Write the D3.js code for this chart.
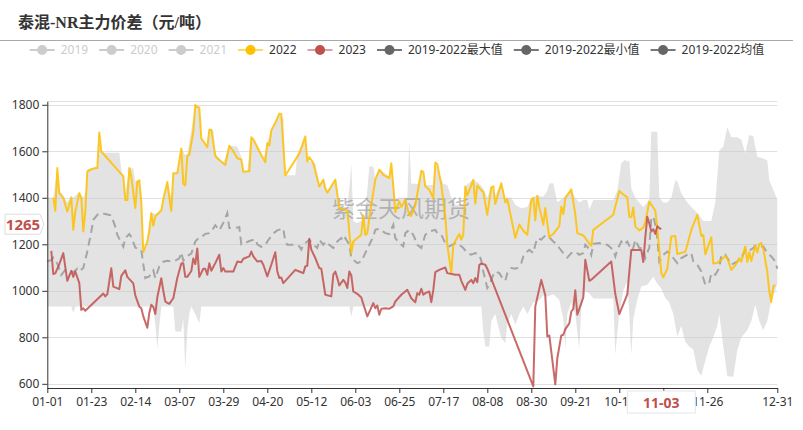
<!DOCTYPE html>
<html><head><meta charset="utf-8">
<script src="https://cdn.jsdelivr.net/npm/d3@7"></script>
<style>body{margin:0;background:#fff}svg{display:block}</style>
</head><body>
<svg id="c" width="803" height="430"></svg>
<script>
// ---------- data ----------
const chartTitle = "泰混-NR主力价差（元/吨）";
const watermark = "紫金天风期货";
const legendNames = ["2019","2020","2021","2022","2023","2019-2022最大值","2019-2022最小值","2019-2022均值"];
const legendOn = [false,false,false,true,true,true,true,true];
const yTicks = [600,800,1000,1200,1400,1600,1800];
const xTickLabels = ["01-01","01-23","02-14","03-07","03-29","04-20","05-12","06-03","06-25","07-17","08-08","08-30","09-21","10-13","11-04","11-26","12-31"];
const pointerDate = "11-03";
const pointerValue = 1265;
// categories: every calendar day (MM-DD, incl. 02-29)
const categories = d3.utcDays(new Date(Date.UTC(2020,0,1)), new Date(Date.UTC(2021,0,1))).map(d3.utcFormat("%m-%d"));

// series: [category index, value]
const y2022 = [[3,1401],[4,1344],[5,1528],[6,1420],[8,1399],[10,1341],[11,1370],[12,1400],[13,1262],[14,1340],[16,1420],[17,1400],[18,1255],[19,1340],[20,1513],[22,1523],[24,1528],[25,1528],[26,1681],[27,1599],[38,1492],[39,1391],[40,1391],[41,1528],[42,1490],[44,1356],[45,1470],[46,1475],[47,1380],[48,1166],[50,1212],[51,1260],[52,1334],[53,1280],[54,1320],[57,1345],[58,1395],[60,1468],[61,1400],[62,1344],[63,1506],[65,1506],[67,1612],[68,1460],[69,1453],[70,1580],[71,1585],[73,1684],[74,1799],[75,1790],[76,1788],[77,1656],[80,1618],[81,1692],[82,1693],[84,1580],[85,1570],[89,1541],[91,1624],[93,1600],[95,1570],[97,1565],[98,1512],[101,1514],[102,1660],[103,1652],[106,1600],[109,1553],[110,1635],[111,1625],[112,1690],[115,1740],[116,1762],[117,1760],[119,1496],[126,1590],[129,1664],[130,1556],[131,1575],[133,1549],[136,1449],[138,1478],[139,1440],[140,1422],[144,1478],[146,1356],[149,1348],[150,1345],[152,1162],[153,1212],[157,1241],[158,1324],[159,1240],[160,1247],[161,1313],[164,1478],[166,1521],[168,1499],[171,1485],[172,1549],[173,1450],[174,1338],[176,1384],[177,1360],[179,1391],[181,1326],[182,1322],[184,1368],[187,1516],[188,1512],[189,1450],[191,1434],[193,1399],[194,1552],[195,1545],[197,1456],[199,1320],[200,1198],[202,1076],[203,1198],[205,1229],[206,1244],[207,1220],[208,1242],[209,1449],[210,1410],[213,1477],[214,1375],[215,1453],[217,1432],[218,1425],[220,1327],[222,1445],[223,1449],[224,1373],[227,1463],[229,1380],[230,1395],[234,1227],[236,1285],[238,1258],[240,1241],[242,1391],[243,1399],[244,1303],[245,1409],[246,1360],[248,1284],[249,1356],[250,1290],[251,1230],[253,1245],[256,1278],[257,1362],[258,1330],[259,1398],[262,1436],[264,1330],[265,1248],[268,1238],[270,1215],[272,1193],[273,1262],[283,1327],[284,1362],[286,1429],[288,1414],[290,1402],[291,1318],[292,1316],[293,1358],[294,1276],[296,1260],[298,1272],[299,1295],[301,1384],[304,1345],[305,1270],[307,1078],[308,1058],[310,1095],[312,1234],[314,1236],[315,1158],[319,1168],[320,1198],[322,1262],[325,1327],[327,1236],[328,1240],[329,1157],[332,1230],[333,1117],[335,1120],[337,1133],[339,1150],[340,1140],[342,1090],[344,1110],[346,1140],[347,1125],[349,1190],[350,1124],[351,1166],[352,1128],[354,1195],[355,1165],[356,1201],[357,1205],[358,1180],[360,1082],[361,997],[362,952],[363,1018],[364,1025]];

const y2023 = [[2,1172],[3,1072],[4,1075],[6,1115],[8,1162],[10,1043],[12,1086],[13,1060],[14,1083],[16,1033],[17,918],[18,925],[19,914],[28,988],[29,976],[30,985],[32,1097],[33,1018],[36,1007],[37,1064],[39,1088],[40,1060],[43,1032],[44,980],[46,932],[47,925],[48,890],[50,841],[51,905],[52,940],[53,930],[54,900],[55,972],[57,1054],[58,1000],[59,954],[60,948],[61,944],[63,968],[65,1055],[67,1117],[68,1118],[69,1060],[70,1060],[72,1085],[73,1139],[74,1115],[75,1182],[76,1060],[78,1095],[79,1095],[80,1069],[81,1119],[82,1086],[84,1119],[86,1155],[87,1083],[88,1098],[89,1083],[91,1083],[93,1083],[95,1126],[97,1123],[98,1138],[101,1148],[102,1169],[103,1148],[105,1126],[107,1128],[108,1112],[110,1062],[112,1112],[114,1166],[115,1083],[116,1055],[117,1057],[118,1033],[124,1090],[126,1083],[128,1076],[129,1105],[130,1108],[131,1224],[132,1177],[134,1141],[136,1098],[137,1095],[139,983],[142,976],[143,1069],[144,1083],[145,1055],[146,1023],[148,1047],[149,1035],[150,1012],[151,1083],[152,1066],[153,997],[155,987],[157,971],[158,943],[160,890],[163,947],[164,925],[165,937],[166,897],[167,923],[169,925],[171,923],[173,933],[174,954],[177,983],[179,997],[180,1004],[182,968],[184,951],[185,990],[186,983],[187,1009],[188,983],[189,990],[191,997],[192,951],[193,1004],[194,1080],[196,1090],[199,1100],[200,1076],[204,1069],[206,1069],[207,1043],[209,1004],[210,1030],[212,1047],[213,1033],[214,1055],[215,1037],[216,1112],[217,1117],[219,1112],[220,1095],[243,589],[244,933],[247,1047],[249,980],[250,804],[251,808],[254,598],[255,710],[257,808],[258,811],[259,835],[261,860],[262,911],[263,922],[264,1002],[265,897],[268,972],[269,1134],[271,1043],[272,1048],[282,1126],[284,986],[286,900],[290,985],[292,1176],[297,1176],[298,1124],[299,1230],[300,1318],[301,1290],[302,1255],[303,1265],[304,1245],[305,1278],[306,1270],[307,1265]];

const yMean = [[0,1126],[2,1133],[3,1143],[5,1118],[7,1068],[9,1090],[11,1088],[13,1080],[15,1095],[16,1085],[18,1098],[20,1169],[22,1255],[23,1305],[25,1327],[27,1334],[30,1328],[32,1324],[34,1275],[35,1240],[38,1190],[39,1227],[41,1244],[42,1232],[44,1186],[46,1178],[47,1175],[48,1115],[49,1055],[51,1062],[53,1088],[54,1055],[56,1105],[58,1125],[60,1129],[62,1126],[64,1130],[66,1140],[67,1165],[68,1130],[70,1150],[72,1160],[74,1212],[76,1230],[77,1230],[79,1245],[81,1248],[82,1255],[84,1282],[86,1260],[88,1292],[90,1334],[91,1270],[94,1270],[96,1274],[97,1200],[100,1210],[101,1214],[104,1222],[105,1200],[107,1189],[109,1196],[110,1212],[113,1247],[115,1260],[118,1268],[119,1212],[120,1198],[124,1198],[126,1191],[127,1177],[128,1198],[130,1212],[131,1219],[133,1198],[135,1184],[136,1219],[138,1198],[139,1212],[141,1198],[143,1184],[145,1212],[147,1227],[148,1212],[149,1227],[151,1198],[152,1141],[153,1134],[155,1119],[157,1126],[159,1162],[161,1198],[163,1234],[164,1262],[166,1267],[169,1248],[171,1244],[173,1284],[174,1227],[176,1205],[178,1191],[179,1248],[181,1262],[183,1241],[185,1198],[187,1184],[189,1241],[191,1255],[194,1262],[195,1248],[197,1241],[199,1205],[201,1191],[204,1205],[206,1198],[208,1184],[210,1162],[212,1155],[214,1162],[216,1155],[217,1129],[218,1083],[220,1012],[221,1026],[223,1069],[224,1083],[226,1076],[227,1062],[229,1043],[230,1076],[232,1098],[234,1095],[235,1098],[237,1119],[238,1148],[240,1169],[241,1176],[243,1162],[244,1198],[245,1227],[247,1220],[249,1238],[251,1230],[253,1212],[255,1198],[256,1184],[258,1162],[260,1143],[262,1162],[264,1169],[266,1155],[268,1162],[269,1198],[271,1180],[272,1155],[273,1202],[276,1205],[278,1198],[280,1198],[283,1176],[284,1148],[285,1176],[287,1212],[288,1198],[290,1212],[292,1176],[293,1184],[294,1219],[296,1184],[298,1184],[299,1141],[301,1186],[302,1313],[303,1320],[304,1285],[305,1227],[306,1126],[308,1155],[310,1169],[312,1155],[313,1141],[315,1119],[317,1141],[320,1155],[322,1162],[323,1126],[325,1112],[327,1083],[329,1026],[331,1033],[332,1076],[334,1069],[336,1098],[337,1155],[339,1155],[340,1141],[342,1112],[345,1126],[347,1141],[349,1176],[350,1169],[353,1184],[354,1195],[356,1191],[358,1191],[360,1162],[362,1148],[364,1126],[365,1095]];

const yMax = [[0,1401],[3,1401],[5,1528],[6,1430],[8,1410],[10,1380],[12,1410],[13,1400],[16,1425],[17,1410],[18,1400],[19,1420],[20,1523],[25,1530],[26,1681],[27,1594],[36,1594],[37,1520],[38,1495],[39,1420],[41,1528],[43,1526],[44,1470],[46,1478],[47,1410],[48,1175],[50,1215],[52,1336],[54,1330],[57,1350],[60,1470],[62,1400],[63,1506],[65,1506],[67,1614],[69,1583],[70,1590],[72,1690],[74,1800],[76,1790],[77,1660],[80,1620],[81,1698],[83,1690],[84,1590],[88,1550],[91,1624],[95,1621],[97,1575],[98,1512],[100,1516],[102,1660],[106,1607],[108,1560],[110,1640],[112,1691],[115,1745],[116,1764],[118,1740],[119,1497],[124,1497],[125,1585],[129,1664],[130,1560],[134,1549],[136,1455],[138,1480],[140,1425],[144,1480],[146,1360],[150,1360],[151,1440],[152,1545],[153,1300],[155,1290],[157,1300],[159,1330],[161,1535],[163,1535],[164,1480],[166,1525],[171,1490],[172,1550],[174,1390],[176,1400],[180,1400],[181,1642],[182,1460],[186,1460],[187,1518],[189,1455],[193,1455],[194,1552],[196,1500],[198,1460],[200,1455],[202,1400],[204,1370],[208,1370],[209,1450],[213,1480],[216,1460],[218,1440],[220,1400],[222,1450],[224,1410],[227,1465],[229,1400],[232,1400],[234,1370],[237,1355],[240,1360],[242,1400],[245,1410],[248,1404],[250,1430],[251,1462],[253,1463],[255,1380],[258,1400],[262,1436],[264,1400],[266,1380],[268,1390],[270,1390],[271,1350],[273,1391],[283,1391],[285,1430],[287,1550],[289,1564],[290,1555],[291,1562],[292,1440],[294,1400],[296,1380],[298,1360],[301,1390],[302,1684],[305,1684],[306,1400],[308,1380],[310,1380],[312,1400],[314,1476],[315,1470],[317,1420],[320,1380],[322,1360],[325,1335],[328,1300],[332,1300],[334,1380],[336,1605],[338,1620],[340,1705],[342,1660],[345,1660],[347,1650],[349,1591],[351,1670],[353,1665],[355,1576],[358,1569],[360,1560],[361,1476],[363,1433],[365,1390]];

const yMin = [[0,933],[12,933],[13,905],[14,933],[53,933],[54,860],[55,753],[56,850],[57,933],[63,933],[64,825],[67,825],[68,880],[69,667],[70,825],[71,900],[72,933],[74,900],[76,861],[77,933],[151,933],[152,890],[153,933],[217,933],[218,825],[219,761],[221,761],[222,870],[224,900],[226,830],[227,797],[229,775],[230,860],[232,900],[234,854],[236,900],[238,933],[240,900],[243,950],[246,960],[248,980],[250,975],[253,985],[256,960],[258,880],[259,752],[260,900],[262,950],[264,900],[266,752],[267,930],[269,1000],[271,990],[273,967],[283,967],[284,725],[285,820],[286,900],[288,1000],[290,1040],[291,900],[292,725],[293,880],[295,960],[297,1020],[300,1026],[303,1060],[305,1030],[307,1010],[309,970],[311,950],[313,900],[315,804],[317,850],[319,780],[321,760],[323,748],[325,660],[327,635],[329,700],[331,760],[333,800],[335,850],[336,900],[338,760],[340,632],[343,630],[345,745],[347,800],[350,830],[352,870],[354,940],[356,870],[358,830],[360,870],[362,960],[364,1000],[365,1030]];

// ---------- drawing ----------
const FONT = '"Noto Sans","Noto Sans CJK SC",sans-serif';
const svg = d3.select("#c");
const x = d3.scalePoint().domain(categories).range([47.3, 777.3]);
const y = d3.scaleLinear().domain([582, 1815]).range([388, 101.3]);
const px = d => x(categories[d[0]]);
const py = d => y(d[1]);
const line = d3.line().x(px).y(py);

// title
svg.append("text").attr("x", 18).attr("y", 28).text(chartTitle)
  .attr("font-family", '"Liberation Serif","Noto Sans CJK SC",serif')
  .attr("font-weight", "bold").attr("font-size", 16).attr("fill", "#333");
svg.append("line").attr("x1", 0).attr("x2", 793).attr("y1", 40.5).attr("y2", 40.5)
  .attr("stroke", "#aaa").attr("stroke-width", 1);

// legend
const legColors = ["#ccc","#ccc","#ccc","#FFC000","#C0504D","#666","#666","#666"];
const legLine = ["#ccc","#ccc","#ccc","#FFD966","#DDA09E","#777","#777","#777"];
const leg = svg.append("g");
let lx = 0;
legendNames.forEach((n, i) => {
  const it = leg.append("g").attr("transform", `translate(${lx},0)`);
  it.append("line").attr("x1", 0).attr("x2", 25).attr("y1", 0).attr("y2", 0)
    .attr("stroke", legLine[i]).attr("stroke-width", 2);
  it.append("circle").attr("cx", 12.5).attr("cy", 0).attr("r", 5).attr("fill", legColors[i]);
  const t = it.append("text").attr("x", 31).attr("y", 0).attr("dy", "0.35em").text(n)
    .attr("font-family", FONT).attr("font-size", 12)
    .attr("fill", legendOn[i] ? "#333" : "#ccc");
  lx += 31 + t.node().getComputedTextLength() + 11;
});
leg.attr("transform", `translate(${397 - (lx - 11) / 2},50)`);

// grid
const grid = svg.append("g");
grid.selectAll("line").data([...yTicks, y.domain()[1]]).join("line")
  .attr("x1", x.range()[0]).attr("x2", x.range()[1])
  .attr("y1", d => Math.round(y(d)) + 0.5).attr("y2", d => Math.round(y(d)) + 0.5)
  .attr("stroke", "#e0e0e0").attr("stroke-width", 1);

// band (min..max)
const topPath = line(yMax);
const botPath = line(yMin.slice().reverse());
svg.append("path").attr("d", topPath + "L" + botPath.slice(1) + "Z")
  .attr("fill", "rgb(199,199,199)").attr("fill-opacity", 0.5);

// watermark
svg.append("text").attr("x", 401).attr("y", 207).attr("text-anchor", "middle")
  .attr("dominant-baseline", "central").text(watermark)
  .attr("font-family", '"Noto Sans CJK SC",sans-serif').attr("font-size", 23).attr("fill", "rgba(128,128,128,0.5)");

// mean
svg.append("path").attr("d", line(yMean)).attr("fill", "none")
  .attr("stroke", "#A5A5A5").attr("stroke-width", 2).attr("stroke-dasharray", "8,5");
// 2022
svg.append("path").attr("d", line(y2022)).attr("fill", "none")
  .attr("stroke", "#FFC000").attr("stroke-opacity", 0.85).attr("stroke-width", 2)
  .attr("stroke-linejoin", "round");
// 2023
svg.append("path").attr("d", line(y2023)).attr("fill", "none")
  .attr("stroke", "#C0504D").attr("stroke-opacity", 0.85).attr("stroke-width", 2)
  .attr("stroke-linejoin", "round");

// axes
const xAxis = svg.append("g").attr("transform", "translate(0,388)")
  .call(d3.axisBottom(x).tickValues(xTickLabels).tickSize(5).tickSizeOuter(0).tickPadding(4));
const yAxis = svg.append("g").attr("transform", `translate(${x.range()[0]},0)`)
  .call(d3.axisLeft(y).tickValues(yTicks).tickFormat(d3.format("d")).tickSize(5).tickSizeOuter(0).tickPadding(3));
[xAxis, yAxis].forEach(a => {
  a.selectAll("path,line").attr("stroke", "#333");
  a.selectAll("text").attr("font-family", FONT).attr("font-size", 12).attr("fill", "#333");
});

// axis pointer (its label box hides the tick label underneath it)
const pxp = x(pointerDate);
xAxis.selectAll(".tick text").filter(function () {
  const cx = x(d3.select(this.parentNode).datum());
  return Math.abs(cx - pxp) < 20;
}).remove();
const xl = svg.append("g");
xl.append("rect").attr("x", pxp - 34).attr("y", 391).attr("width", 68).attr("height", 22)
  .attr("fill", "#fff").attr("stroke", "#e6e6e6");
xl.append("text").attr("x", pxp).attr("y", 402).attr("text-anchor", "middle")
  .attr("dominant-baseline", "central").text(pointerDate)
  .attr("font-family", FONT).attr("font-size", 14).attr("font-weight", "bold").attr("fill", "#C0504D");
const pyp = y(pointerValue) - 5;
const yl = svg.append("g");
yl.append("path").attr("d", `M5,${pyp - 10}H40L44,${pyp}L40,${pyp + 10}H5Z`)
  .attr("fill", "#fff").attr("stroke", "#ddd");
yl.append("text").attr("x", 23).attr("y", pyp).attr("text-anchor", "middle")
  .attr("dominant-baseline", "central").text(pointerValue)
  .attr("font-family", FONT).attr("font-size", 15).attr("font-weight", "bold").attr("fill", "#C0504D");
</script>
</body></html>
